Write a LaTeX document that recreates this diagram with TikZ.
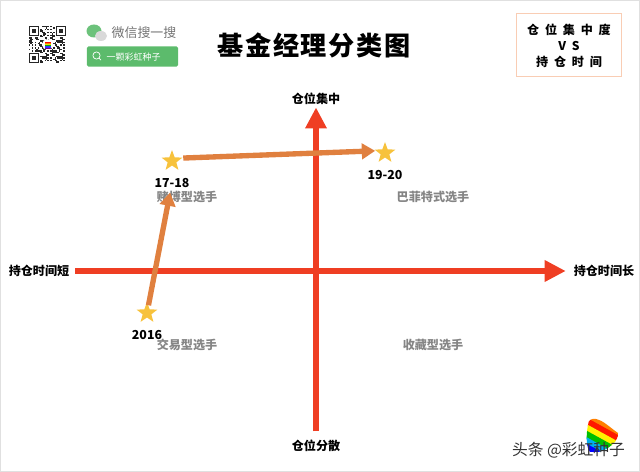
\documentclass[tikz,border=0pt]{standalone}
\usepackage{fontspec}
\setmainfont{Noto Sans CJK SC}
\newfontfamily\titlefont[LetterSpace=6]{Noto Sans CJK SC}
\newfontfamily\boxfont[LetterSpace=48]{Noto Sans CJK SC}
\usetikzlibrary{arrows.meta,shapes.geometric,positioning}
\definecolor{axisred}{HTML}{EF3E23}
\definecolor{pathorange}{HTML}{E0803F}
\definecolor{stargold}{HTML}{F7C23C}
\definecolor{wxgreen}{HTML}{5CBB6C}
\definecolor{boxpeach}{HTML}{F9CDB4}

\begin{document}
\begin{tikzpicture}[
        x=0.025cm, y=-0.025cm,
        every node/.style={inner sep=0pt, align=center},
        axislabel/.style={font=\fontsize{8.6}{10}\selectfont\bfseries},
        quadlabel/.style={font=\fontsize{8.6}{10}\selectfont\bfseries, text=black!48},
        yearlabel/.style={font=\fontsize{8.8}{10}\selectfont\bfseries},
        starmark/.style={star, star points=5, star point ratio=2.4, fill=stargold, minimum size=15.5pt},
        axisline/.style={axisred, line width=4.9pt, -{Triangle[length=15pt,width=14.5pt]}},
        moveline/.style={pathorange, line width=3.8pt, -{Triangle[length=9.5pt,width=11pt]}}
    ]
    \useasboundingbox (0,0) rectangle (640,472);
    \draw[black!12, line width=0.8pt] (0,0) rectangle (640,472);

    % QR code
    \foreach \i in {0,...,25} {
      \foreach \j in {0,...,25} {
        \pgfmathparse{mod(\i*\i*3+\j*7+\i*\j*5,11)<5 ? 1 : 0}
        \ifnum\pgfmathresult=1
          \fill[black!85] (29+\i*1.42,26+\j*1.42) rectangle +(1.42,1.42);
        \fi
      }
    }
    \foreach \qx/\qy in {29/26, 56/26, 29/53} {
      \fill[white] (\qx-1,\qy-1) rectangle +(12,12);
      \draw[black!85, line width=0.9pt] (\qx+0.7,\qy+0.7) rectangle +(8.6,8.6);
      \fill[black!85] (\qx+3,\qy+3) rectangle +(4,4);
    }
    \fill[white] (47.5,44.5) circle (5.5);
    \foreach \c [count=\k] in {red,orange,yellow!90!black,green!70!black,blue!80,violet} {
      \fill[\c] (44.5,40.5+\k*1.2) rectangle +(6,1.2);
    }

    % Search badge
    \fill[wxgreen!90] (94,31) ellipse (7.5 and 6.5);
    \fill[black!15] (101,36) ellipse (6 and 5);
    \node (wxname) at (144,33) [font=\fontsize{9.2}{11}\selectfont, text=black!55] {微信搜一搜};
    \node (searchbox) at (132.5,56.5) [fill=wxgreen, rounded corners=1.2pt, minimum width=65pt, minimum height=14.5pt] {};
    \draw[white, line width=0.5pt] (96.5,55.5) circle (3.6) (99,58.2) -- (101,60.2);
    \node (searchtext) at (133.5,57) [font=\fontsize{6.4}{8}\selectfont, text=white] {一颗彩虹种子};

    % Title and box
    \node (title) at (314,45) [font=\titlefont\fontsize{18.6}{22}\selectfont\bfseries] {基金经理分类图};
    \node (topic) at (569,45) [draw=boxpeach, line width=1pt, minimum width=75pt, minimum height=45pt, text depth=0pt,
        font=\boxfont\fontsize{8.6}{11.4}\selectfont\bfseries] {仓位集中度 \\ VS \\ 持仓时间};

    % Axis labels
    \node (shortside) at (39,271) [axislabel] {持仓时间短};
    \node (longside) at (604,271) [axislabel] {持仓时间长};
    \node (topside) at (316,99) [axislabel] {仓位集中};
    \node (lowside) at (316,446) [axislabel] {仓位分散};

    % Quadrants
    \node (gamble) at (187,197) [quadlabel] {赌博型选手};
    \node (buffett) at (433,197) [quadlabel] {巴菲特式选手};
    \node (trade) at (187,345) [quadlabel] {交易型选手};
    \node (collect) at (433,345) [quadlabel] {收藏型选手};

    % Axes
    \draw[axisline, shorten <=4pt, shorten >=5.5pt] (shortside) -- (longside);
    \draw[axisline, shorten <=6pt, shorten >=1.6pt] (lowside) -- (topside);

    % Stars
    \node (star2016) at (147,313) [starmark] {};
    \node (star1718) at (172,161) [starmark] {};
    \node (star1920) at (385,153) [starmark] {};
    \node (year2016) [below=8.4pt of star2016, yearlabel] {2016};
    \node (year1718) [below=8.4pt of star1718, yearlabel] {17-18};
    \node (year1920) [below=8.4pt of star1920, yearlabel] {19-20};

    % Edges
    \draw[moveline, shorten >=3.5pt] (star2016) -- (year1718);
    \draw[moveline, shorten <=8pt, shorten >=7pt] ([yshift=1.8pt]star1718.center) -- ([yshift=1.8pt]star1920.center);

    % Logo
    \begin{scope}
      \clip (588,425) .. controls (588,420) and (592,418) .. (596,419) .. controls (604,421) and (608,426) .. (618,433)
        .. controls (619,441) and (608,450) .. (598,452) -- (590,452) .. controls (586,447) and (586,435) .. (588,425) -- cycle;
      \foreach \c [count=\k] in {orange,red!80!orange,yellow,green!75!black,cyan,blue,violet} {
        \draw[\c, line width=4.9pt] (570,399.5+\k*6.5) -- (640,438+\k*6.5);
      }
    \end{scope}
    \node (brand) at (568.5,450) [font=\fontsize{11.2}{12}\selectfont, text=black!80] {头条 @彩虹种子};
\end{tikzpicture}
\end{document}
